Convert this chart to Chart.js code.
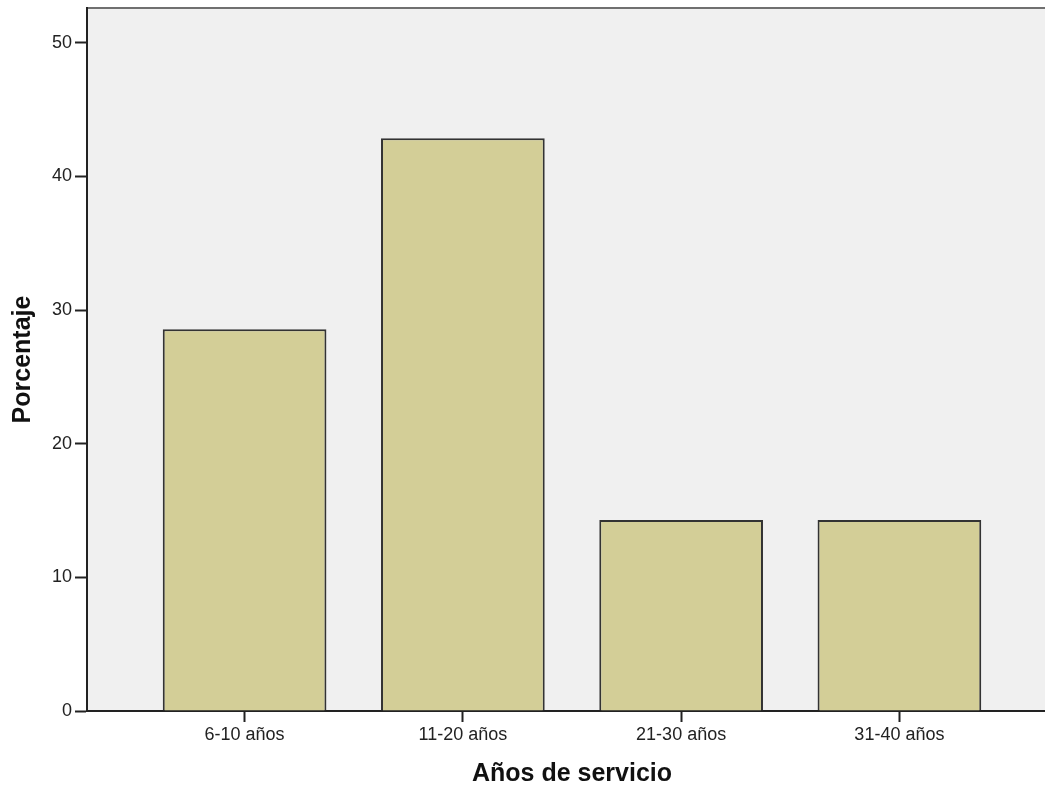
<!DOCTYPE html>
<html>
<head>
<meta charset="utf-8">
<script src="https://cdn.jsdelivr.net/npm/chart.js@4"></script>
<style>
  html, body { margin: 0; padding: 0; background: #fff; overflow: hidden; }
  #wrap { position: relative; width: 1057px; height: 788px; }
</style>
</head>
<body>
<div id="wrap"><canvas id="chart"></canvas></div>
<script>
// values
const categories = ['6-10 años', '11-20 años', '21-30 años', '31-40 años'];
const percentages = [28.57, 42.86, 14.29, 14.29];
const yTicks = [0, 10, 20, 30, 40, 50];
const xTitle = 'Años de servicio';
const yTitle = 'Porcentaje';

const FONT = "'Liberation Sans', Arial, sans-serif";

// plot background + grey top edge
const plotBg = {
  id: 'plotBg',
  beforeDraw(chart) {
    const { ctx, chartArea: a } = chart;
    ctx.save();
    ctx.fillStyle = '#f0f0f0';
    ctx.fillRect(a.left, a.top, a.right - a.left, a.bottom - a.top);
    ctx.strokeStyle = '#707070';
    ctx.lineWidth = 2;
    ctx.beginPath();
    ctx.moveTo(a.left, a.top);
    ctx.lineTo(a.right, a.top);
    ctx.stroke();
    ctx.restore();
  }
};

const ctx = document.getElementById('chart').getContext('2d');
new Chart(ctx, {
  type: 'bar',
  data: {
    datasets: [{
      data: percentages.map((v, i) => ({ x: i + 1, y: v })),
      backgroundColor: '#d3ce97',
      borderColor: '#333333',
      borderWidth: 2,
      barPercentage: 0.75,
      categoryPercentage: 1,
    }]
  },
  options: {
    responsive: true,
    maintainAspectRatio: false,
    animation: false,
    layout: { padding: { top: 8, left: 0, right: 0, bottom: 0 } },
    plugins: { legend: { display: false }, tooltip: { enabled: false } },
    scales: {
      x: {
        type: 'linear',
        offset: false,
        min: 0.278,
        max: 4.722,
        afterBuildTicks: s => { s.ticks = categories.map((c, i) => ({ value: i + 1 })); },
        afterFit: s => { s.height = 77; s.paddingLeft = 0; s.paddingRight = 0; },
        ticks: {
          includeBounds: false,
          padding: 2,
          color: '#222',
          font: { family: FONT, size: 18 },
          callback: v => categories[v - 1] || '',
          maxRotation: 0,
        },
        grid: { offset: false, drawOnChartArea: false, drawTicks: true, tickLength: 11, tickColor: '#222', tickWidth: 2 },
        border: { display: true, color: '#222', width: 2 },
        title: {
          display: true, text: xTitle, color: '#111',
          font: { family: FONT, size: 25, weight: 'bold', lineHeight: 1.1 },
          padding: { top: 0, bottom: 0 }
        }
      },
      y: {
        min: 0,
        max: 52.6,
        afterBuildTicks: s => { s.ticks = yTicks.map(v => ({ value: v })); },
        afterFit: s => { s.width = 87; s.paddingTop = 0; s.paddingBottom = 0; },
        ticks: {
          includeBounds: false,
          padding: 3,
          color: '#222',
          font: { family: FONT, size: 18 },
        },
        grid: { drawOnChartArea: false, drawTicks: true, tickLength: 12, tickColor: '#222', tickWidth: 2 },
        border: { display: true, color: '#222', width: 2 },
        title: {
          display: true, text: yTitle, color: '#111',
          font: { family: FONT, size: 25, weight: 'bold', lineHeight: 1.2 },
          padding: { top: 8, bottom: 0 }
        }
      }
    }
  },
  plugins: [plotBg]
});
</script>
</body>
</html>
